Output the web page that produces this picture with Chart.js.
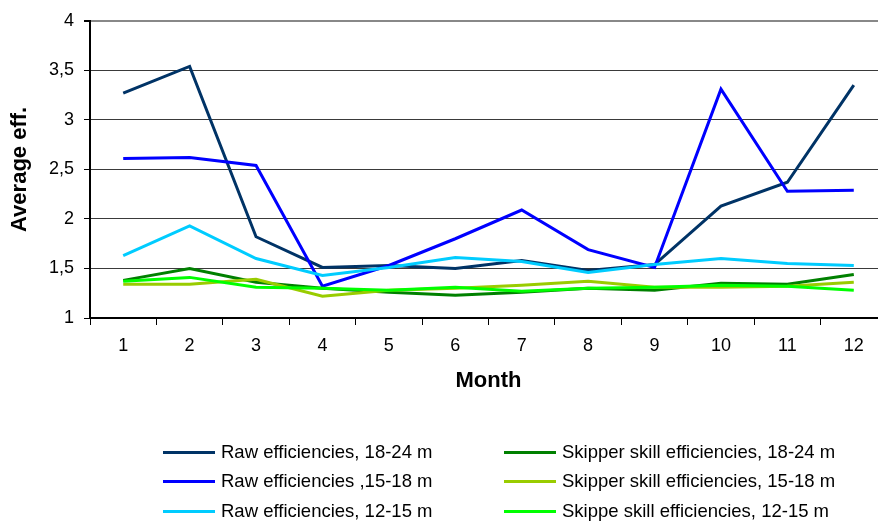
<!DOCTYPE html>
<html>
<head>
<meta charset="utf-8">
<script src="https://cdn.jsdelivr.net/npm/chart.js@4.4.1/dist/chart.umd.min.js"></script>
<style>
    body { margin: 0; overflow: hidden; background: #fff; font-family: 'Liberation Sans', Arial, sans-serif; }
    #wrap { position: relative; width: 887px; height: 527px; }
    #legend { position: absolute; left: 0; top: 0; width: 887px; height: 527px; pointer-events: none; }
    .item { position: absolute; height: 24px; display: flex; align-items: center; font-size: 18.5px; color: #000; white-space: nowrap; }
    .swatch { width: 52px; height: 3px; margin-right: 6px; }
</style>
</head>
<body>
<div id="wrap">
    <canvas id="effChart"></canvas>
    <div id="legend"></div>
</div>
<script>
var months = ['1', '2', '3', '4', '5', '6', '7', '8', '9', '10', '11', '12'];

var raw1824 = [3.27, 3.54, 1.82, 1.51, 1.53, 1.50, 1.58, 1.48, 1.54, 2.13, 2.37, 3.35];
var raw1518 = [2.61, 2.62, 2.54, 1.32, 1.53, 1.80, 2.09, 1.69, 1.51, 3.31, 2.28, 2.29];
var raw1215 = [1.63, 1.93, 1.60, 1.43, 1.51, 1.61, 1.57, 1.46, 1.54, 1.60, 1.55, 1.53];
var skip1824 = [1.38, 1.50, 1.36, 1.30, 1.26, 1.23, 1.26, 1.30, 1.28, 1.35, 1.34, 1.44];
var skip1518 = [1.34, 1.34, 1.39, 1.22, 1.28, 1.30, 1.33, 1.37, 1.31, 1.31, 1.32, 1.36];
var skip1215 = [1.37, 1.41, 1.31, 1.30, 1.28, 1.31, 1.27, 1.30, 1.31, 1.33, 1.32, 1.28];

var fontName = "'Liberation Sans', Arial, sans-serif";

function line(label, color, values, order) {
    return {
        label: label,
        borderColor: color,
        backgroundColor: color,
        borderWidth: 3,
        pointRadius: 0,
        tension: 0,
        order: order,
        data: values
    };
}

var effData = {
    labels: months,
    datasets: [
        line('Raw efficiencies, 18-24 m', '#003366', raw1824, 6),
        line('Raw efficiencies ,15-18 m', '#0000FF', raw1518, 5),
        line('Raw efficiencies, 12-15 m', '#00CCFF', raw1215, 4),
        line('Skipper skill efficiencies, 18-24 m', '#008000', skip1824, 3),
        line('Skipper skill efficiencies, 15-18 m', '#99CC00', skip1518, 2),
        line('Skippe skill efficiencies, 12-15 m', '#00FF00', skip1215, 1)
    ]
};

var ctx = document.getElementById('effChart').getContext('2d');
var effChart = new Chart(ctx, {
    type: 'line',
    data: effData,
    options: {
        responsive: true,
        maintainAspectRatio: false,
        animation: false,
        layout: { padding: { top: 17, right: 0, bottom: 127, left: 0 } },
        plugins: {
            legend: { display: false },
            tooltip: { enabled: false }
        },
        scales: {
            x: {
                offset: true,
                afterFit: function (scale) { scale.height = 82; },
                grid: {
                    offset: true,
                    drawOnChartArea: false,
                    drawTicks: true,
                    tickLength: 7,
                    tickColor: '#000'
                },
                border: { display: true, color: '#000', width: 2 },
                ticks: {
                    color: '#000',
                    padding: 10,
                    maxRotation: 0,
                    font: { family: fontName, size: 18 }
                },
                title: {
                    display: true,
                    text: 'Month',
                    color: '#000',
                    padding: { top: 0, bottom: 6 },
                    font: { family: fontName, size: 22, weight: 'bold' }
                }
            },
            y: {
                min: 1,
                max: 4,
                afterFit: function (scale) { scale.width = 90; },
                grid: {
                    drawTicks: true,
                    tickLength: 6,
                    tickColor: '#000',
                    color: function (c) {
                        if (c.tick && c.tick.value === 4) return '#888';
                        return '#3a3a3a';
                    },
                    lineWidth: function (c) {
                        if (c.tick && c.tick.value === 4) return 2;
                        return 1;
                    }
                },
                border: { display: true, color: '#000', width: 2 },
                ticks: {
                    stepSize: 0.5,
                    color: '#000',
                    padding: 10,
                    font: { family: fontName, size: 18 },
                    callback: function (v) { return String(v).replace('.', ','); }
                },
                title: {
                    display: true,
                    text: 'Average eff.',
                    color: '#000',
                    padding: { top: 7, bottom: 0 },
                    font: { family: fontName, size: 22, weight: 'bold' }
                }
            }
        }
    }
});

// legend in two columns, like the original
var legendPos = [
    [163, 452], [163, 481], [163, 511],
    [504, 452], [504, 481], [504, 511]
];
var legendBox = document.getElementById('legend');
effData.datasets.forEach(function (ds, i) {
    var item = document.createElement('div');
    item.className = 'item';
    item.style.left = legendPos[i][0] + 'px';
    item.style.top = (legendPos[i][1] - 12) + 'px';
    var sw = document.createElement('span');
    sw.className = 'swatch';
    sw.style.background = ds.borderColor;
    var txt = document.createElement('span');
    txt.textContent = ds.label;
    item.appendChild(sw);
    item.appendChild(txt);
    legendBox.appendChild(item);
});
</script>
</body>
</html>
